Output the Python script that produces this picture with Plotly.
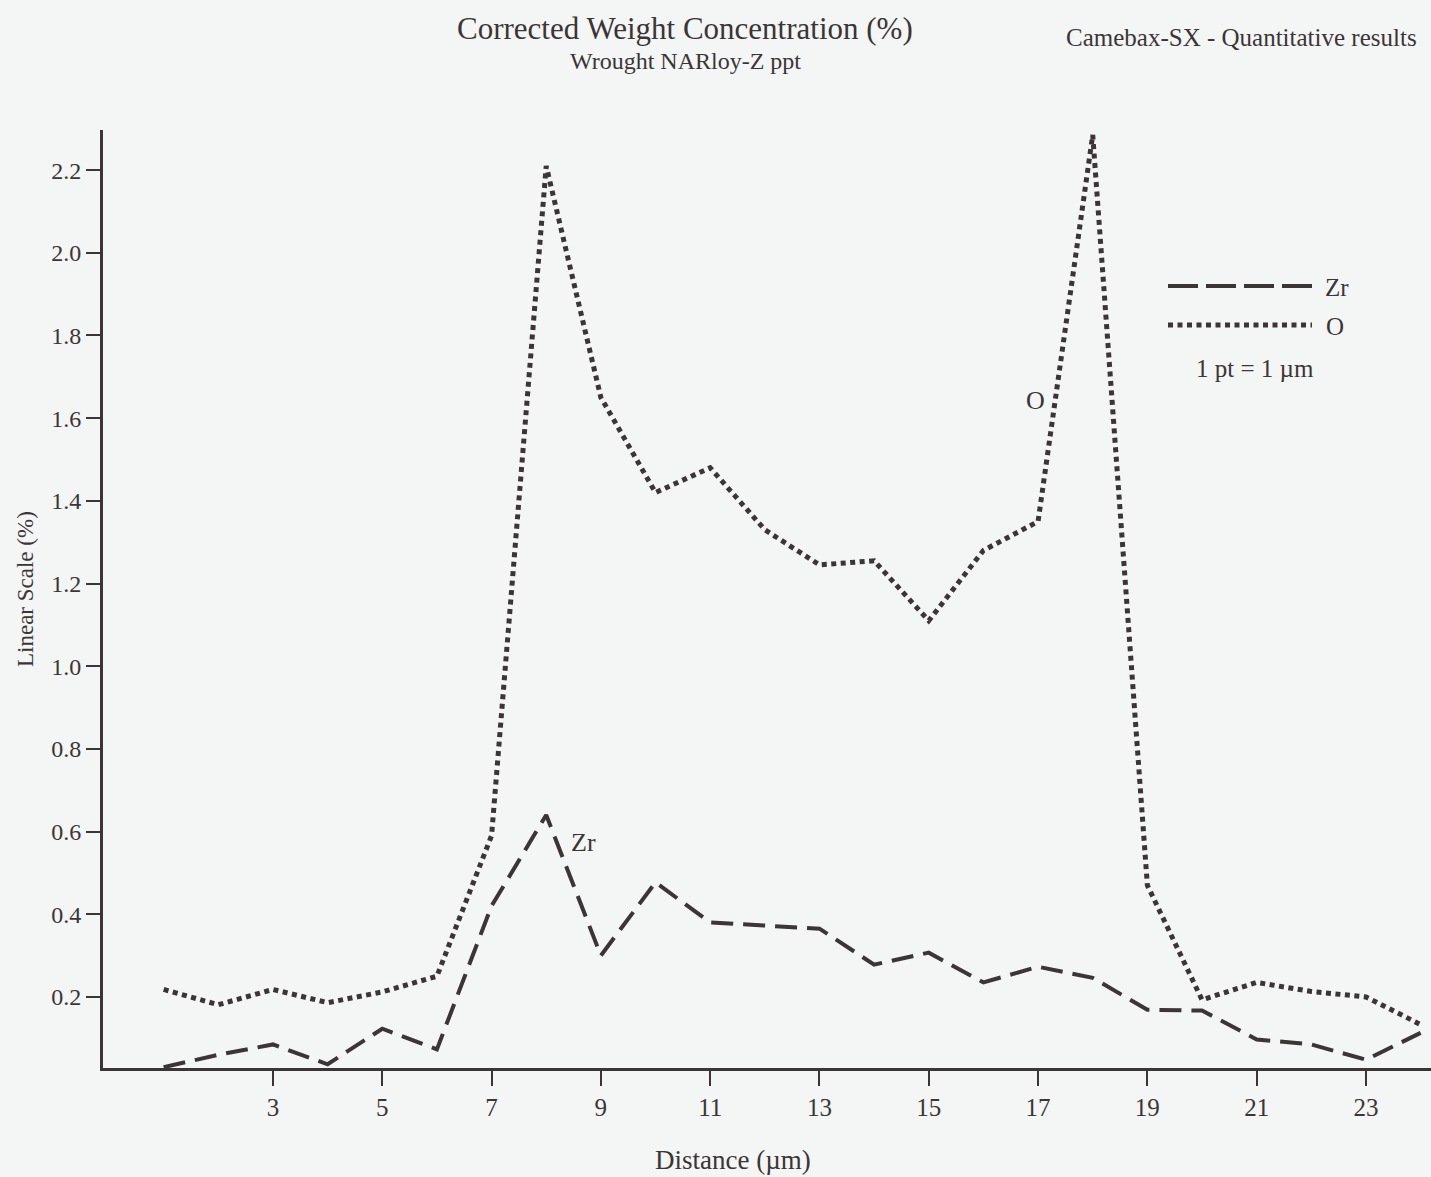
import plotly.graph_objects as go

# Microprobe line scan: corrected weight concentration vs. distance
distance_um = list(range(1, 25))
zr_pct = [0.03, 0.06, 0.085, 0.037, 0.123, 0.073, 0.42, 0.64, 0.30, 0.477,
          0.38, 0.372, 0.365, 0.278, 0.307, 0.235, 0.273, 0.246, 0.169, 0.167,
          0.097, 0.085, 0.048, 0.113]
o_pct = [0.218, 0.181, 0.218, 0.186, 0.212, 0.25, 0.59, 2.21, 1.65, 1.42,
         1.48, 1.33, 1.245, 1.255, 1.11, 1.28, 1.35, 2.285, 0.47, 0.193,
         0.235, 0.213, 0.2, 0.133]
x_ticks = [3, 5, 7, 9, 11, 13, 15, 17, 19, 21, 23]
y_ticks = [0.2, 0.4, 0.6, 0.8, 1.0, 1.2, 1.4, 1.6, 1.8, 2.0, 2.2]

INK = "#3b3536"
BG = "#f4f5f5"
SERIF = "Liberation Serif, Times New Roman, serif"
DOT = "5px,4.5px"

fig = go.Figure()
fig.add_trace(go.Scatter(x=distance_um, y=o_pct, mode="lines", name="O",
                         line=dict(color=INK, width=5, dash=DOT)))
fig.add_trace(go.Scatter(x=distance_um, y=zr_pct, mode="lines", name="Zr",
                         line=dict(color=INK, width=4, dash="22px,10px")))

W, H = 1431, 1177
L, R, T, B = 103, 0, 130, 109
pw, ph = W - L - R, H - T - B


def px(x):
    return (x - L) / pw


def py(y):
    return (H - B - y) / ph


annotations = [
    dict(text="Corrected Weight Concentration (%)", x=px(685), y=py(29),
         font=dict(size=31)),
    dict(text="Wrought NARloy-Z ppt", x=px(685), y=py(61), font=dict(size=24)),
    dict(text="Camebax-SX - Quantitative results", x=px(1241), y=py(38),
         font=dict(size=25)),
    dict(text="Distance (µm)", x=px(733), y=py(1160), font=dict(size=27)),
    dict(text="Linear Scale (%)", x=px(25), y=py(589), font=dict(size=23),
         textangle=-90),
    # legend text
    dict(text="Zr", x=px(1337), y=py(287), font=dict(size=25)),
    dict(text="O", x=px(1335), y=py(326), font=dict(size=25)),
    dict(text="1 pt = 1 µm", x=px(1255), y=py(368), font=dict(size=25)),
    # curve labels
    dict(text="O", x=px(1035), y=py(400), font=dict(size=26)),
    dict(text="Zr", x=px(583), y=py(842), font=dict(size=26)),
]
for a in annotations:
    a.update(xref="paper", yref="paper", showarrow=False,
             xanchor="center", yanchor="middle")
    a["font"].update(family=SERIF, color=INK)

shapes = [
    dict(type="line", xref="paper", yref="paper", x0=px(1168), x1=px(1312),
         y0=py(286), y1=py(286), line=dict(color=INK, width=4, dash="30px,8px")),
    dict(type="line", xref="paper", yref="paper", x0=px(1168), x1=px(1312),
         y0=py(325), y1=py(325), line=dict(color=INK, width=5, dash=DOT)),
]

fig.update_layout(
    width=W, height=H,
    margin=dict(l=L, r=R, t=T, b=B, pad=0),
    paper_bgcolor=BG, plot_bgcolor=BG,
    showlegend=False,
    annotations=annotations,
    shapes=shapes,
    font=dict(family=SERIF, color=INK, size=24),
)
fig.update_xaxes(range=[-0.11, 24.19], tickvals=x_ticks, ticks="outside",
                 ticklen=15, tickwidth=2, tickcolor=INK, showgrid=False,
                 zeroline=False, showline=True, linecolor=INK, linewidth=3,
                 tickfont=dict(size=25, family=SERIF, color=INK))
fig.update_yaxes(range=[0.028, 2.297], tickvals=y_ticks,
                 ticktext=[f"{v:.1f}" for v in y_ticks], ticks="outside",
                 ticklen=14, tickwidth=2, tickcolor=INK, showgrid=False,
                 zeroline=False, showline=True, linecolor=INK, linewidth=3,
                 tickfont=dict(size=24, family=SERIF, color=INK))

fig.write_html("out.html")
